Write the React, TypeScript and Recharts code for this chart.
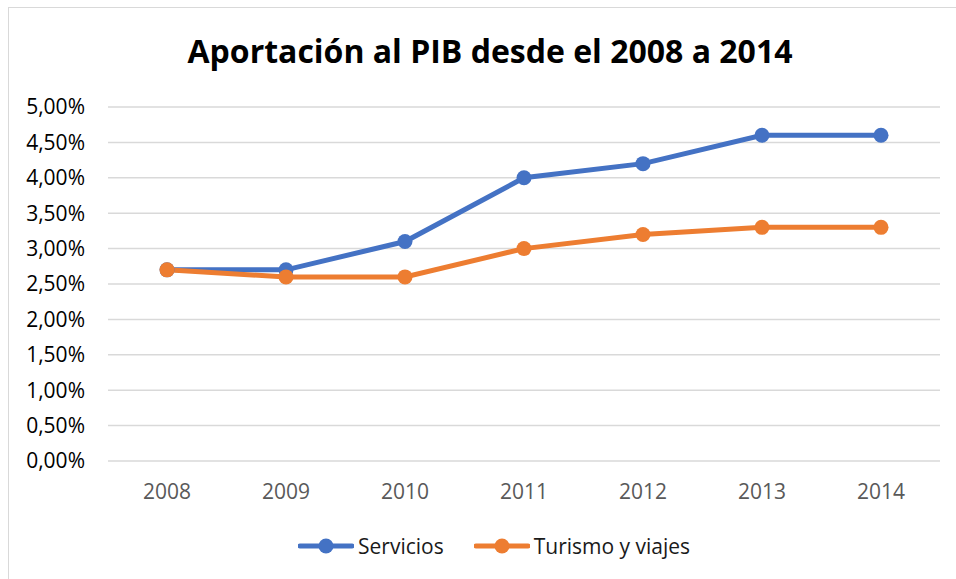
import React from 'react';
import { LineChart, Line, XAxis, YAxis, CartesianGrid } from 'recharts';

const years = ['2008', '2009', '2010', '2011', '2012', '2013', '2014'];
const servicios = [2.7, 2.7, 3.1, 4.0, 4.2, 4.6, 4.6];
const turismo = [2.7, 2.6, 2.6, 3.0, 3.2, 3.3, 3.3];
const yTicks = [0, 0.5, 1, 1.5, 2, 2.5, 3, 3.5, 4, 4.5, 5];
const seriesNames = ['Servicios', 'Turismo y viajes'];
const seriesColors = ['#4472C4', '#ED7D31'];
const title = 'Aportación al PIB desde el 2008 a 2014';

const data = years.map((y, i) => ({ year: y, servicios: servicios[i], turismo: turismo[i] }));

const fmt = (v: number) => v.toFixed(2).replace('.', ',') + '%';
const FONT = '"Open Sans", sans-serif';

export default function App() {
  return (
    <div style={{ position: 'absolute', left: 0, top: 0, width: 956, height: 579, overflow: 'hidden', background: '#fff', fontFamily: FONT }}>
      <div style={{ position: 'absolute', left: 8, top: 7, width: 947, height: 571, borderLeft: '1px solid #d9d9d9', borderTop: '1px solid #d9d9d9' }} />
      <div style={{ position: 'absolute', left: 0, top: 31, width: 980, textAlign: 'center', fontSize: 32, fontWeight: 700, color: '#000', lineHeight: '40px' }}>
        {title}
      </div>
      <div style={{ position: 'absolute', left: 0, top: 0 }}>
        <LineChart width={956} height={579} data={data} margin={{ top: 107, right: 16, bottom: 88, left: 0 }}>
          <CartesianGrid vertical={false} stroke="#d9d9d9" strokeWidth={1.5} />
          <XAxis
            dataKey="year"
            axisLine={false}
            tickLine={false}
            tickSize={0}
            tickMargin={23}
            height={30}
            padding={{ left: 59, right: 59 }}
            tick={{ fill: '#595959', fontSize: 21, fontFamily: FONT }}
          />
          <YAxis
            domain={[0, 5]}
            ticks={yTicks}
            tickFormatter={fmt}
            width={108}
            axisLine={false}
            tickLine={false}
            tickSize={0}
            tickMargin={23}
            interval={0}
            tick={{ fill: '#000', fontSize: 21, fontFamily: FONT }}
          />
          <Line type="linear" dataKey="servicios" name={seriesNames[0]} stroke={seriesColors[0]} strokeWidth={5}
            dot={{ r: 7.5, fill: seriesColors[0], stroke: 'none' }} activeDot={false} isAnimationActive={false} />
          <Line type="linear" dataKey="turismo" name={seriesNames[1]} stroke={seriesColors[1]} strokeWidth={5}
            dot={{ r: 7.5, fill: seriesColors[1], stroke: 'none' }} activeDot={false} isAnimationActive={false} />
        </LineChart>
      </div>
      <div style={{ position: 'absolute', left: 298, top: 530, height: 32, display: 'flex', alignItems: 'center', fontSize: 21, color: '#1a1a1a' }}>
        {seriesNames.map((n, i) => (
          <div key={n} style={{ display: 'flex', alignItems: 'center', marginRight: i === 0 ? 30 : 0 }}>
            <svg width={56} height={16} style={{ marginRight: 4 }}>
              <line x1={2} y1={8} x2={54} y2={8} stroke={seriesColors[i]} strokeWidth={5} strokeLinecap="round" />
              <circle cx={28} cy={8} r={7.5} fill={seriesColors[i]} />
            </svg>
            <span>{n}</span>
          </div>
        ))}
      </div>
    </div>
  );
}
